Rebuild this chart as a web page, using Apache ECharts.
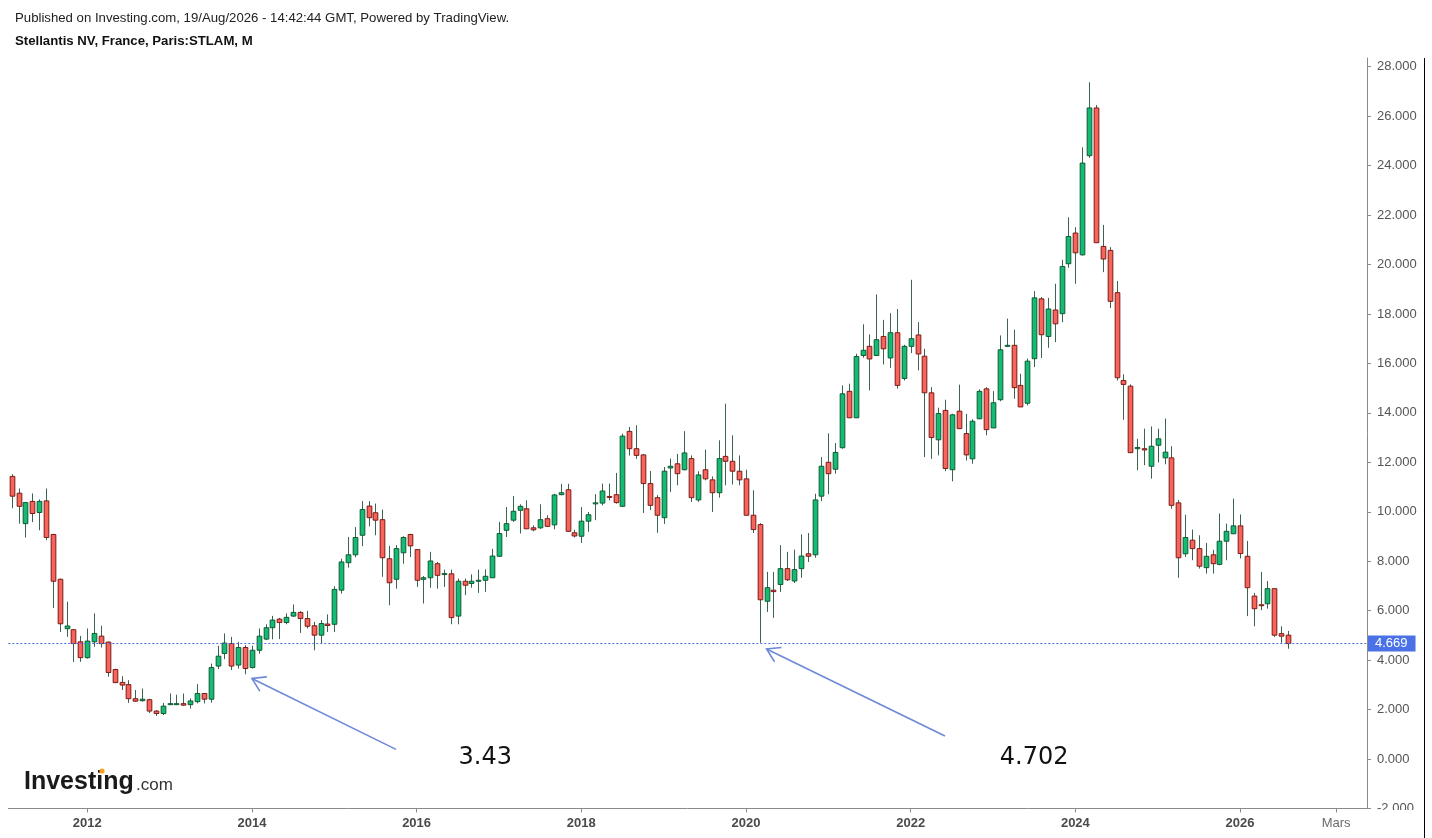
<!DOCTYPE html>
<html><head><meta charset="utf-8">
<script src="https://cdn.jsdelivr.net/npm/echarts@6/dist/echarts.min.js"></script>
<style>html,body{margin:0;padding:0;background:#fff}#c{width:1432px;height:838px}</style>
</head><body><div id="c"></div><script>
// ---- data (monthly candles, Feb 2011 .. Aug 2026) ----
const firstMonth = [2011, 2];      // Feb 2011
const monthsOnAxis = 198;          // axis extends into 2027 (empty future months)
const opens = [11.43,10.75,9.52,10.42,9.97,10.44,9.08,7.27,5.27,5.23,4.74,4.1,4.74,4.97,4.73,3.62,3.1,3.01,2.44,2.36,2.4,1.94,1.84,2.2,2.22,2.24,2.2,2.32,2.65,2.42,3.76,4.27,4.67,3.8,4.51,3.7,4.4,4.85,5.31,5.66,5.52,5.78,5.93,5.68,5.39,5.01,5.46,5.45,6.83,7.94,8.26,9.05,10.23,9.96,9.68,8.1,7.27,8.34,9.08,8.47,7.27,7.33,7.9,7.47,7.49,5.78,7.19,7.1,7.19,7.23,7.33,8.2,9.25,9.66,10.06,10.12,9.35,9.35,9.72,9.47,10.69,10.89,9.15,9.01,9.62,10.32,10.35,10.62,10.69,10.22,13.25,12.55,12.3,11.14,10.57,9.76,11.77,11.94,11.7,12.15,10.48,11.7,11.29,10.77,12.24,12.04,11.64,11.33,9.86,9.48,6.38,6.83,7.06,7.7,7.2,7.7,8.3,8.26,10.63,12.0,11.72,12.59,14.87,13.8,16.32,16.69,16.32,17.09,16.22,17.24,15.39,16.69,17.15,16.29,14.81,12.91,14.1,11.7,14.07,13.16,12.14,13.76,14.97,13.39,14.53,16.69,16.73,15.11,14.39,16.19,18.61,17.09,18.16,18.01,20.03,21.27,20.39,24.4,26.33,20.73,20.57,18.86,15.31,15.08,12.55,12.55,11.84,12.69,12.18,12.18,10.36,8.3,8.85,8.51,7.74,8.26,7.87,8.81,9.11,9.43,8.2,6.59,6.24,6.28,6.89,5.07,5.01];
const highs = [11.52,10.94,10.4,10.74,10.5,10.94,9.11,7.3,6.36,5.25,4.98,5.28,5.89,5.39,4.75,3.65,3.35,3.19,2.79,2.85,2.44,1.98,2.27,2.65,2.6,2.65,2.45,3.03,2.67,3.86,4.58,5.08,4.94,4.74,4.6,4.58,5.28,5.45,5.79,5.71,5.89,6.25,5.98,5.99,5.55,5.62,5.85,6.99,8.1,8.98,9.38,10.43,10.43,10.33,10.09,8.62,8.65,9.01,9.11,8.47,7.4,8.38,7.97,7.66,7.66,7.3,7.3,7.47,7.66,7.67,8.5,9.59,10.19,10.64,10.3,10.46,9.45,10.3,9.86,10.73,11.13,11.13,9.27,10.19,9.99,10.71,11.14,11.14,11.57,13.16,13.43,13.5,12.34,11.65,10.67,11.81,12.15,12.34,13.26,12.28,11.64,12.51,11.43,12.89,14.37,13.09,12.28,11.7,10.87,9.54,7.57,7.57,8.65,8.38,8.47,9.09,9.14,10.73,12.21,13.17,12.78,15.11,15.18,16.39,17.58,17.17,18.79,17.76,18.03,18.2,16.75,19.38,17.67,16.59,15.04,14.21,14.53,13.96,15.14,13.96,13.74,14.95,15.04,14.88,17.13,17.81,17.36,15.58,16.19,18.92,18.68,18.65,19.22,20.19,21.91,21.51,24.74,27.37,26.45,21.6,20.7,19.33,15.56,15.15,12.95,13.36,13.45,13.36,13.77,12.65,10.48,9.88,9.28,9.05,8.74,8.46,9.93,9.52,10.53,9.89,8.82,6.72,7.57,7.2,6.89,5.37,5.18];
const lows = [10.14,9.52,8.96,9.58,9.25,8.85,6.11,5.14,4.94,3.93,3.93,4.06,4.54,4.51,3.33,3.09,2.79,2.27,2.31,2.32,1.86,1.74,1.78,2.18,2.18,2.15,2.04,2.25,2.25,2.28,3.64,4.04,3.6,3.66,3.43,3.66,4.26,4.81,4.84,4.85,5.45,5.75,5.1,5.28,4.4,4.65,5.14,5.14,6.69,7.74,8.16,8.61,9.41,9.05,7.37,6.22,6.89,7.9,8.17,6.96,6.29,6.93,6.89,6.96,5.45,5.45,6.63,6.93,6.72,6.76,7.33,8.17,8.98,9.59,9.12,9.31,9.21,9.31,9.39,9.29,10.67,9.18,8.96,8.74,9.19,9.66,10.26,10.46,10.33,10.19,12.27,12.14,9.95,10.06,9.15,9.51,10.8,11.07,11.67,10.4,10.4,11.27,9.99,10.57,11.07,11.1,11.07,9.86,9.14,4.702,5.95,5.71,6.76,7.2,7.12,7.33,7.97,8.14,10.43,10.71,11.54,12.55,13.8,13.8,16.23,14.91,16.32,15.96,15.82,14.98,15.31,16.42,15.72,12.21,12.14,12.28,11.64,11.23,13.36,12.07,11.94,13.76,13.09,13.39,14.47,16.66,14.57,14.24,14.3,15.85,16.22,16.63,16.86,17.67,19.87,19.22,20.36,24.31,20.88,19.69,18.24,15.31,13.72,12.39,11.68,11.88,11.34,11.99,11.92,10.12,7.33,8.17,8.04,7.7,7.5,7.5,7.84,8.04,9.11,8.11,5.78,5.37,6.02,6.08,4.94,4.7,4.46];
const closes = [10.63,10.22,10.37,9.93,10.42,8.96,7.19,5.47,5.38,4.67,4.1,4.77,5.08,4.67,3.5,3.09,2.99,2.44,2.34,2.42,1.94,1.84,2.14,2.24,2.24,2.18,2.35,2.65,2.42,3.7,4.16,4.69,3.76,4.51,3.66,4.4,4.97,5.31,5.62,5.52,5.73,5.93,5.68,5.37,5.01,5.48,5.4,6.86,7.97,8.26,8.96,10.09,9.76,9.66,8.14,7.13,8.51,8.96,8.62,7.23,7.33,8.01,7.43,7.5,5.72,7.19,7.03,7.19,7.23,7.39,8.21,9.12,9.52,10.02,10.22,9.31,9.27,9.68,9.41,10.68,10.77,9.21,9.02,9.62,9.88,10.36,10.84,10.58,10.37,13.06,12.55,12.28,11.14,10.26,9.86,11.64,11.84,11.54,12.38,10.57,11.49,11.33,10.77,12.15,12.04,11.64,11.29,9.86,9.28,6.44,6.93,6.77,7.7,7.25,7.66,8.21,8.2,10.48,11.84,11.54,12.4,14.77,13.8,16.28,16.53,16.18,16.96,16.59,17.24,15.11,16.69,17.0,16.38,14.81,13.0,13.97,11.75,13.92,13.36,12.3,13.66,14.87,13.32,14.41,16.55,16.73,15.02,14.24,16.09,18.65,17.16,18.2,17.6,19.92,21.13,20.47,24.1,26.33,20.88,20.22,18.51,15.42,15.15,12.39,12.6,12.5,12.65,12.95,12.41,10.26,8.14,8.96,8.51,7.8,8.2,7.9,8.81,9.21,9.43,8.31,6.93,6.08,6.2,6.89,5.01,4.97,4.669];
const lastPrice = 4.669;
const annotations = [
  { label: '3.43',  tip: [34.97, 3.26], tail: [56.0, 0.39],  text: [69.1, 0.06] },
  { label: '4.702', tip: [109.8, 4.45], tail: [135.7, 0.93], text: [149.4, 0.06] }
];
const monthNamesFr = ['Janv','Févr','Mars','Avr','Mai','Juin','Juil','Août','Sept','Oct','Nov','Déc'];

// ---- build categories ----
const categories = [];
for (let i = 0; i < monthsOnAxis; i++) {
  const m0 = firstMonth[1] - 1 + i;
  const y = firstMonth[0] + Math.floor(m0 / 12);
  const m = (m0 % 12) + 1;
  categories.push(y + '-' + (m < 10 ? '0' + m : m));
}
function showLabel(idx) {
  const c = categories[idx];
  const y = +c.slice(0, 4), m = +c.slice(5);
  return (m === 1 && y % 2 === 0) || c === '2027-03';
}
const candleData = opens.map((o, i) => [i, o, closes[i], lows[i], highs[i]]);

const UP_FILL = '#12bd73', UP_BORDER = '#0f5a34';
const DN_FILL = '#f9645a', DN_BORDER = '#7a1b16';
const WICK = '#3a6450';

const chart = echarts.init(document.getElementById('c'), null, { renderer: 'canvas' });
const FONT = "'Liberation Sans', Arial, sans-serif";
chart.setOption({
  animation: false,
  backgroundColor: '#ffffff',
  grid: { left: 8.3, right: 65, top: 58, bottom: 29.5, containLabel: false },
  xAxis: {
    type: 'category', data: categories, boundaryGap: true,
    axisLine: { onZero: false, lineStyle: { color: '#8a8a8a', width: 1 } },
    axisTick: { show: true, alignWithLabel: true, interval: (i) => showLabel(i), length: 4, lineStyle: { color: '#8a8a8a' } },
    axisLabel: {
      interval: (i) => showLabel(i), margin: 8,
      formatter: (v) => v === '2027-03' ? '{n|' + monthNamesFr[2] + '}' : '{b|' + v.slice(0, 4) + '}',
      rich: {
        b: { fontFamily: FONT, fontSize: 13, fontWeight: 'bold', color: '#4a4a4a' },
        n: { fontFamily: FONT, fontSize: 13, color: '#6a6a6a' }
      }
    },
    splitLine: { show: false }
  },
  yAxis: {
    type: 'value', position: 'right', min: -2, max: 28.35, interval: 2, scale: false,
    axisLine: { show: true, lineStyle: { color: '#8a8a8a' } },
    axisTick: { show: true, length: 4, lineStyle: { color: '#8a8a8a' } },
    axisLabel: { showMaxLabel: false, margin: 10, fontFamily: FONT, fontSize: 13, color: '#555',
      formatter: (v) => v.toFixed(3) },
    splitLine: { show: false }
  },
  series: [{
    type: 'custom',
    data: candleData,
    encode: { x: 0, y: [1, 2, 3, 4] },
    clip: true,
    renderItem: function (params, api) {
      const idx = api.value(0);
      const o = api.value(1), c = api.value(2), l = api.value(3), h = api.value(4);
      const pO = api.coord([idx, o]), pC = api.coord([idx, c]);
      const pL = api.coord([idx, l]), pH = api.coord([idx, h]);
      const w = api.size([1, 0])[0] * 0.68;
      const up = c >= o;
      const top = Math.min(pO[1], pC[1]);
      const hgt = Math.max(Math.abs(pO[1] - pC[1]), 1);
      const cx = Math.round(pO[0]) + 0.5;
      return {
        type: 'group',
        children: [
          { type: 'line', shape: { x1: cx, y1: pH[1], x2: cx, y2: pL[1] }, style: { stroke: WICK, lineWidth: 1 } },
          { type: 'rect', shape: { x: cx - w / 2, y: top, width: w, height: hgt },
            style: { fill: up ? UP_FILL : DN_FILL, stroke: up ? UP_BORDER : DN_BORDER, lineWidth: 1 } }
        ]
      };
    },
    markLine: {
      silent: true, symbol: 'none', animation: false,
      data: [{ yAxis: lastPrice }],
      lineStyle: { color: '#4a6fe0', type: [2, 2], width: 1 },
      label: { show: true, position: 'end', distance: 1, formatter: lastPrice.toFixed(3),
        backgroundColor: '#4a72e6', color: '#ffffff', fontFamily: FONT, fontSize: 13, padding: [2, 8, 1, 7] }
    }
  }]
});

// ---- annotations & static decorations ----
function px(p) { return chart.convertToPixel({ gridIndex: 0 }, p); }
const ARROW = '#6e89d6';
const gfx = [];
annotations.forEach(a => {
  const t = px(a.tip), s = px(a.tail), tx = px(a.text);
  const ang = Math.atan2(s[1] - t[1], s[0] - t[0]);
  const L = 15, d = 32 * Math.PI / 180;
  const e1 = [t[0] + L * Math.cos(ang - d), t[1] + L * Math.sin(ang - d)];
  const e2 = [t[0] + L * Math.cos(ang + d), t[1] + L * Math.sin(ang + d)];
  gfx.push({ type: 'polyline', shape: { points: [t, s] }, style: { stroke: ARROW, lineWidth: 1.6, fill: null }, z: 50 });
  gfx.push({ type: 'polyline', shape: { points: [e1, t, e2] }, style: { stroke: ARROW, lineWidth: 1.6, fill: null }, z: 50 });
  gfx.push({ type: 'text', x: tx[0], y: tx[1], style: { text: a.label, fontFamily: "'DejaVu Sans', sans-serif", fontSize: 24, fill: '#111', align: 'center', verticalAlign: 'middle' }, z: 50 });
});
// header
gfx.push({ type: 'text', left: 15, top: 12, style: { text: 'Published on Investing.com, 19/Aug/2026 - 14:42:44 GMT, Powered by TradingView.', fontFamily: FONT, fontSize: 13.2, fill: '#222' } });
gfx.push({ type: 'text', left: 15, top: 34.5, style: { text: 'Stellantis NV, France, Paris:STLAM, M', fontFamily: FONT, fontSize: 13.2, fontWeight: 'bold', fill: '#111' } });
// logo
gfx.push({ type: 'text', x: 24, y: 795, style: { text: 'Investing', fontFamily: FONT, fontSize: 25, fontWeight: 'bold', fill: '#1a1a1a', verticalAlign: 'bottom' }, z: 40 });
gfx.push({ type: 'text', x: 136, y: 793.5, style: { text: '.com', fontFamily: FONT, fontSize: 17, fill: '#333', verticalAlign: 'bottom' }, z: 40 });
gfx.push({ type: 'circle', shape: { cx: 102, cy: 771, r: 2.6 }, style: { fill: '#f7a11a' }, z: 41 });
// mask lower part of price scale (clipped -2.000 label) and right border
gfx.push({ type: 'rect', shape: { x: 1369, y: 810, width: 54, height: 28 }, style: { fill: '#fff' }, z: 60 });
gfx.push({ type: 'line', shape: { x1: 1424.5, y1: 58, x2: 1424.5, y2: 838 }, style: { stroke: '#000', lineWidth: 1 }, z: 61 });
chart.setOption({ graphic: gfx });
</script></body></html>
